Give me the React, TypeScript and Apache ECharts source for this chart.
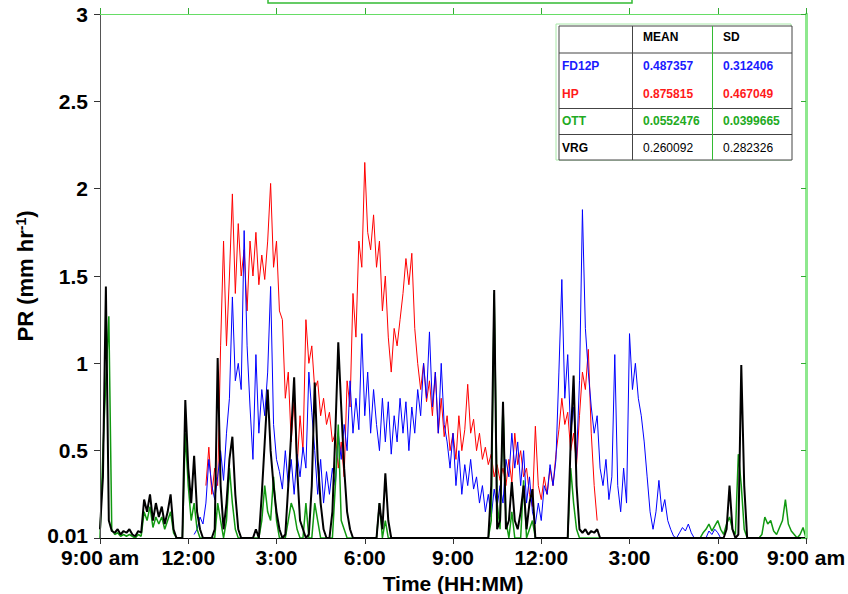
import { useEffect, useRef } from "react";
import * as echarts from "echarts";

// ---------- data ----------
const STEP_MIN = 6; // minutes between samples, time counted from 9:00 am
const xTickLabels = ["9:00 am", "12:00", "3:00", "6:00", "9:00", "12:00", "3:00", "6:00", "9:00 am"];
const yTickLabels = ["0.01", "0.5", "1", "1.5", "2", "2.5", "3"];

const fd12pStartMin = 192;
const fd12pValues = [
  0.02, 0.05, 0.12, 0.08, 0.2, 0.45, 0.3, 0.22, 0.35, 0.5,
  0.33, 0.6, 0.8, 1.38, 0.9, 1.0, 0.85, 1.76, 1.1, 0.75,
  0.45, 1.05, 0.6, 0.85, 0.7, 0.95, 1.44, 0.65, 0.45, 0.38,
  0.28, 0.5, 0.3, 0.45, 0.25, 0.48, 0.35, 0.52, 0.4, 0.95,
  0.72, 0.5, 0.25, 0.45, 0.2, 0.38, 0.25, 0.4, 0.3, 0.6,
  0.45, 0.65, 0.5, 0.9, 0.6, 0.8, 0.62, 1.17, 0.7, 0.95,
  0.6, 0.85, 0.65, 0.5, 0.8, 0.55, 0.78, 0.48, 0.7, 0.55,
  0.8, 0.6, 0.78, 0.5, 0.75, 0.6, 0.85, 0.7, 1.0, 0.8,
  1.18, 0.75, 0.95, 0.6, 1.0, 0.65, 0.55, 0.4, 0.6, 0.3,
  0.5, 0.25, 0.42, 0.3, 0.45, 0.28, 0.35, 0.2, 0.3, 0.15,
  0.25, 0.12, 0.28, 0.18, 0.3, 0.2, 0.45, 0.35, 0.6, 0.4,
  0.55, 0.3, 0.5, 0.2, 0.35, 0.15, 0.08, 0.2, 0.1, 0.3,
  0.25, 0.42, 0.3, 0.45, 0.95, 1.48, 0.8, 1.05, 0.6, 0.75,
  0.45, 0.9, 1.88, 1.2, 0.95, 0.75, 0.6, 0.7, 0.4, 0.3,
  0.45, 0.22, 0.35, 1.05, 0.3, 0.15, 0.4, 0.2, 1.17, 0.85,
  1.0, 0.8, 0.7, 0.55, 0.35, 0.15, 0.05, 0.15, 0.33, 0.15,
  0.22, 0.1, 0.05, 0.01, 0, 0.03, 0.06, 0.04, 0.08, 0.03,
  0, 0, 0, 0, 0, 0.04, 0.02, 0.05, 0.03, 0,
];

const hpStartMin = 216;
const hpValues = [
  0.3, 0.52, 0.25, 0.4, 0.3, 1.1, 1.7, 1.1, 1.5, 1.97,
  1.4, 1.8, 1.5, 1.65, 1.3, 1.7, 1.5, 1.75, 1.45, 1.62,
  1.48, 1.7, 2.03, 1.55, 1.7, 1.3, 1.25, 0.8, 0.95, 0.55,
  0.8, 0.4, 0.7, 0.5, 1.25, 1.0, 1.1, 0.85, 0.9, 0.7,
  0.8, 0.65, 0.72, 0.55, 0.6, 0.4, 0.55, 0.35, 0.9, 0.75,
  1.4, 1.15, 1.7, 1.55, 2.15, 1.75, 1.65, 1.85, 1.55, 1.7,
  1.3, 1.5, 1.15, 0.95, 1.2, 1.1, 1.25, 1.4, 1.6, 1.45,
  1.63, 1.2, 1.0, 0.85, 1.0, 0.78, 0.9, 0.7, 0.95, 0.6,
  0.8, 0.58, 0.7, 0.5, 0.6, 0.45, 0.7, 0.5, 0.62, 0.88,
  0.6, 0.68, 0.5, 0.6, 0.45, 0.52, 0.42, 0.48, 0.35, 0.42,
  0.33, 0.4, 0.3, 0.45, 0.32, 0.6, 0.42, 0.5, 0.35, 0.4,
  0.25, 0.18, 0.64, 0.3, 0.22, 0.35, 0.25, 0.4, 0.3, 0.48,
  0.62, 0.8, 0.65, 0.72, 0.5, 0.6, 0.42, 0.7, 0.95, 0.85,
  1.08, 0.6, 0.3, 0.1,
];

const ottStartMin = 0;
const ottValues = [
  0, 0.5, 0.9, 1.27, 0.05, 0.02, 0.03, 0.01, 0.02, 0.01,
  0.02, 0.01, 0, 0.02, 0.01, 0.15, 0.1, 0.18, 0.06, 0.12,
  0.08, 0.12, 0.05, 0.1, 0.15, 0.03, 0, 0, 0, 0.6,
  0.3, 0.1, 0.2, 0.05, 0, 0, 0, 0, 0, 0,
  0.2, 0.1, 0, 0.1, 0.4, 0.2, 0.05, 0, 0, 0,
  0, 0, 0, 0, 0, 0.1, 0.3, 0.15, 0.1, 0.35,
  0.1, 0, 0, 0, 0.1, 0.2, 0.15, 0.05, 0, 0,
  0.2, 0, 0, 0.2, 0.1, 0, 0, 0, 0, 0,
  0.3, 0.65, 0.1, 0.05, 0, 0, 0, 0, 0, 0,
  0, 0, 0, 0, 0, 0.2, 0, 0.1, 0, 0,
  0, 0, 0, 0, 0, 0, 0, 0, 0, 0,
  0, 0, 0, 0, 0, 0, 0, 0, 0, 0,
  0, 0, 0, 0, 0, 0, 0, 0, 0, 0,
  0, 0, 0, 0.1, 1.4, 0.2, 0.05, 0.77, 0.1, 0,
  0.15, 0, 0, 0, 0.33, 0, 0.05, 0.1, 0, 0,
  0, 0, 0, 0, 0, 0, 0, 0, 0, 0,
  0.4, 0.2, 0.05, 0, 0, 0, 0, 0, 0, 0,
  0, 0, 0, 0, 0, 0, 0, 0, 0, 0,
  0, 0, 0, 0, 0, 0, 0, 0, 0, 0,
  0, 0, 0, 0, 0, 0, 0, 0, 0, 0,
  0, 0, 0, 0, 0, 0.03, 0.05, 0.08, 0.04, 0.07,
  0.1, 0.05, 0.02, 0.08, 0.12, 0.05, 0.02, 0.48, 0.3, 0.05,
  0, 0, 0, 0, 0, 0.02, 0.12, 0.08, 0.1, 0.04,
  0.02, 0.06, 0.1, 0.22, 0.08, 0.04, 0.02, 0, 0.02, 0.06,
  0,
];

const vrgStartMin = 0;
const vrgValues = [
  0.05, 0.35, 1.44, 0.1, 0.04, 0.03, 0.05, 0.02, 0.04, 0.03,
  0.05, 0.02, 0.01, 0.04, 0.03, 0.22, 0.15, 0.25, 0.1, 0.2,
  0.12, 0.18, 0.08, 0.15, 0.25, 0.05, 0, 0, 0, 0.79,
  0.4, 0.2, 0.47, 0.15, 0.05, 0, 0, 0, 0, 0.05,
  1.03, 0.3, 0.05, 0.2, 0.45, 0.58, 0.25, 0.05, 0, 0,
  0, 0, 0, 0.05, 0, 0.25, 0.55, 0.85, 0.5, 0.3,
  0.15, 0.05, 0, 0.02, 0.3, 0.6, 0.92, 0.4, 0.1, 0.05,
  0, 0.02, 0.3, 0.89, 0.45, 0.2, 0.05, 0, 0, 0.15,
  0.6, 1.12, 0.75, 0.4, 0.15, 0.05, 0, 0, 0, 0,
  0, 0, 0, 0, 0, 0.2, 0.05, 0.37, 0.1, 0,
  0, 0, 0, 0, 0, 0, 0, 0, 0, 0,
  0, 0, 0, 0, 0, 0, 0, 0, 0, 0,
  0, 0, 0, 0, 0, 0, 0, 0, 0, 0,
  0, 0, 0, 0.3, 1.42, 0.05, 0.1, 0.78, 0.05, 0.1,
  0.32, 0.1, 0.05, 0.15, 0.3, 0.05, 0.2, 0.28, 0, 0,
  0, 0, 0, 0, 0, 0, 0, 0, 0, 0,
  0.55, 0.93, 0.3, 0.05, 0.03, 0.05, 0.02, 0.04, 0.03, 0.05,
  0, 0, 0, 0, 0, 0, 0, 0, 0, 0,
  0, 0, 0, 0, 0, 0, 0, 0, 0, 0,
  0, 0, 0, 0, 0, 0, 0, 0, 0, 0,
  0, 0, 0, 0, 0, 0, 0, 0, 0, 0,
  0, 0, 0, 0.05, 0.3, 0.05, 0, 0.02, 0.99, 0.3,
  0, 0, 0, 0, 0, 0, 0, 0, 0, 0,
  0, 0, 0, 0, 0, 0, 0, 0, 0, 0,
  0,
];

const tableHeader = ["", "MEAN", "SD"];
const tableNames = ["FD12P", "HP", "OTT", "VRG"];
const tableMeans = ["0.487357", "0.875815", "0.0552476", "0.260092"];
const tableSDs = ["0.312406", "0.467049", "0.0399665", "0.282326"];

// ---------- styling ----------
const FONT = "'Liberation Sans', Arial, sans-serif";
const COLORS = { fd12p: "#0000ff", hp: "#ff0000", ott: "#119911", vrg: "#000000" };
const TABLE_COLORS = ["#1a1aff", "#ff1a1a", "#22aa22", "#000000"];

const toPairs = (start: number, vals: number[]) => vals.map((v, i) => [start + i * STEP_MIN, v]);

export default function App() {
  const ref = useRef<HTMLDivElement>(null);

  useEffect(() => {
    if (!ref.current) return;
    const chart = echarts.init(ref.current, undefined, { renderer: "svg" });

    const tx = { left: 559, top: 26, right: 792, bottom: 160 };
    const colX = [562, 643, 723];
    const rowY = [37, 66, 94, 121, 148];
    const graphics: any[] = [];
    // title box (cut off at top)
    graphics.push({
      type: "rect",
      shape: { x: 268, y: -30, width: 364, height: 33 },
      style: { fill: "#fff", stroke: "#33bb33", lineWidth: 1.5 },
      z: 100,
    });
    // table shadow + box
    graphics.push({
      type: "rect",
      shape: { x: tx.left - 3, y: tx.top - 2, width: tx.right - tx.left + 2, height: tx.bottom - tx.top + 2 },
      style: { fill: "none", stroke: "#a8e8a8", lineWidth: 1 },
      z: 100,
    });
    graphics.push({
      type: "rect",
      shape: { x: tx.left, y: tx.top, width: tx.right - tx.left, height: tx.bottom - tx.top },
      style: { fill: "#fff", stroke: "#444", lineWidth: 1 },
      z: 100,
    });
    const hl = (y: number) => ({
      type: "line",
      shape: { x1: tx.left, y1: y, x2: tx.right, y2: y },
      style: { stroke: "#444", lineWidth: 1 },
      z: 101,
    });
    graphics.push(hl(53), hl(108.5), hl(134.5));
    graphics.push({
      type: "line",
      shape: { x1: 632.5, y1: tx.top, x2: 632.5, y2: tx.bottom },
      style: { stroke: "#444", lineWidth: 1 },
      z: 101,
    });
    graphics.push({
      type: "line",
      shape: { x1: 712.5, y1: tx.top, x2: 712.5, y2: tx.bottom },
      style: { stroke: "#33bb33", lineWidth: 1 },
      z: 101,
    });
    const txt = (s: string, x: number, y: number, fill: string, bold = true) => ({
      type: "text",
      x,
      y,
      z: 102,
      style: {
        text: s,
        fill,
        font: `${bold ? "bold " : ""}12px ${FONT}`,
        verticalAlign: "middle",
        align: "left",
      },
    });
    tableHeader.forEach((h, c) => {
      if (h) graphics.push(txt(h, colX[c], rowY[0], "#000"));
    });
    tableNames.forEach((n, r) => {
      const col = TABLE_COLORS[r];
      const bold = r < 3;
      graphics.push(txt(n, colX[0], rowY[r + 1], col, true));
      graphics.push(txt(tableMeans[r], colX[1], rowY[r + 1], col, bold));
      graphics.push(txt(tableSDs[r], colX[2], rowY[r + 1], col, bold));
    });

    const labelStyle = { fontFamily: FONT, fontWeight: "bold" as const, fontSize: 21, color: "#000" };

    const line = (name: string, data: number[][], color: string, width: number) => ({
      name,
      type: "line",
      data,
      showSymbol: false,
      symbol: "none",
      lineStyle: { color, width },
      itemStyle: { color },
      clip: true,
    });

    chart.setOption({
      animation: false,
      backgroundColor: "#fff",
      grid: { left: 100, right: 42, top: 14, bottom: 56, containLabel: false, outerBoundsMode: "none" },
      xAxis: [
        {
          type: "value",
          min: 0,
          max: 1440,
          interval: 180,
          position: "bottom",
          z: 10,
          axisLine: { show: true, onZero: false, lineStyle: { color: "#000", width: 1 } },
          axisTick: { show: true, length: 6, lineStyle: { color: "#333" } },
          axisLabel: {
            ...labelStyle,
            margin: 9,
            formatter: (v: number) => xTickLabels[Math.round(v / 180)] ?? "",
          },
          splitLine: { show: false },
          name: "Time (HH:MM)",
          nameLocation: "middle",
          nameGap: 29,
          nameTextStyle: { fontFamily: FONT, fontWeight: "bold", fontSize: 21, color: "#000" },
        },
        {
          type: "value",
          min: 0,
          max: 1440,
          interval: 180,
          position: "top",
          z: 10,
          axisLine: { show: true, onZero: false, lineStyle: { color: "#66dd66", width: 1 } },
          axisTick: { show: true, length: 6, lineStyle: { color: "#3a3" } },
          axisLabel: { show: false },
          splitLine: { show: false },
        },
      ],
      yAxis: [
        {
          type: "value",
          min: 0,
          max: 3,
          interval: 0.5,
          position: "left",
          z: 10,
          axisLine: { show: true, onZero: false, lineStyle: { color: "#555", width: 1 } },
          axisTick: { show: true, length: 6, lineStyle: { color: "#333" } },
          axisLabel: {
            ...labelStyle,
            margin: 12,
            formatter: (v: number) => {
              const i = Math.round(v / 0.5);
              const s = yTickLabels[i] ?? "";
              return i === 0 ? `{low|${s}}` : s;
            },
            rich: {
              low: { ...labelStyle, padding: [0, 0, 6, 0] },
            },
          },
          splitLine: { show: false },
          name: "PR (mm hr{sup|-1})",
          nameLocation: "middle",
          nameGap: 58,
          nameRotate: 90,
          nameTextStyle: {
            fontFamily: FONT,
            fontWeight: "bold",
            fontSize: 22,
            color: "#000",
            rich: {
              sup: { fontFamily: FONT, fontWeight: "bold", fontSize: 14, lineHeight: 14, verticalAlign: "top", color: "#000" },
            },
          },
        },
        {
          type: "value",
          min: 0,
          max: 3,
          interval: 0.5,
          position: "right",
          z: 10,
          axisLine: { show: true, onZero: false, lineStyle: { color: "#8ee88e", width: 3 } },
          axisTick: { show: true, inside: true, length: 5, lineStyle: { color: "#3a3" } },
          axisLabel: { show: false },
          splitLine: { show: false },
        },
      ],
      series: [
        line("HP", toPairs(hpStartMin, hpValues), COLORS.hp, 1),
        line("FD12P", toPairs(fd12pStartMin, fd12pValues), COLORS.fd12p, 1),
        line("OTT", toPairs(ottStartMin, ottValues), COLORS.ott, 1.5),
        line("VRG", toPairs(vrgStartMin, vrgValues), COLORS.vrg, 2),
      ],
      graphic: graphics,
    });

    return () => chart.dispose();
  }, []);

  return (
    <div
      ref={ref}
      style={{ position: "fixed", left: 0, top: 0, width: 848, height: 594, background: "#fff" }}
    />
  );
}
